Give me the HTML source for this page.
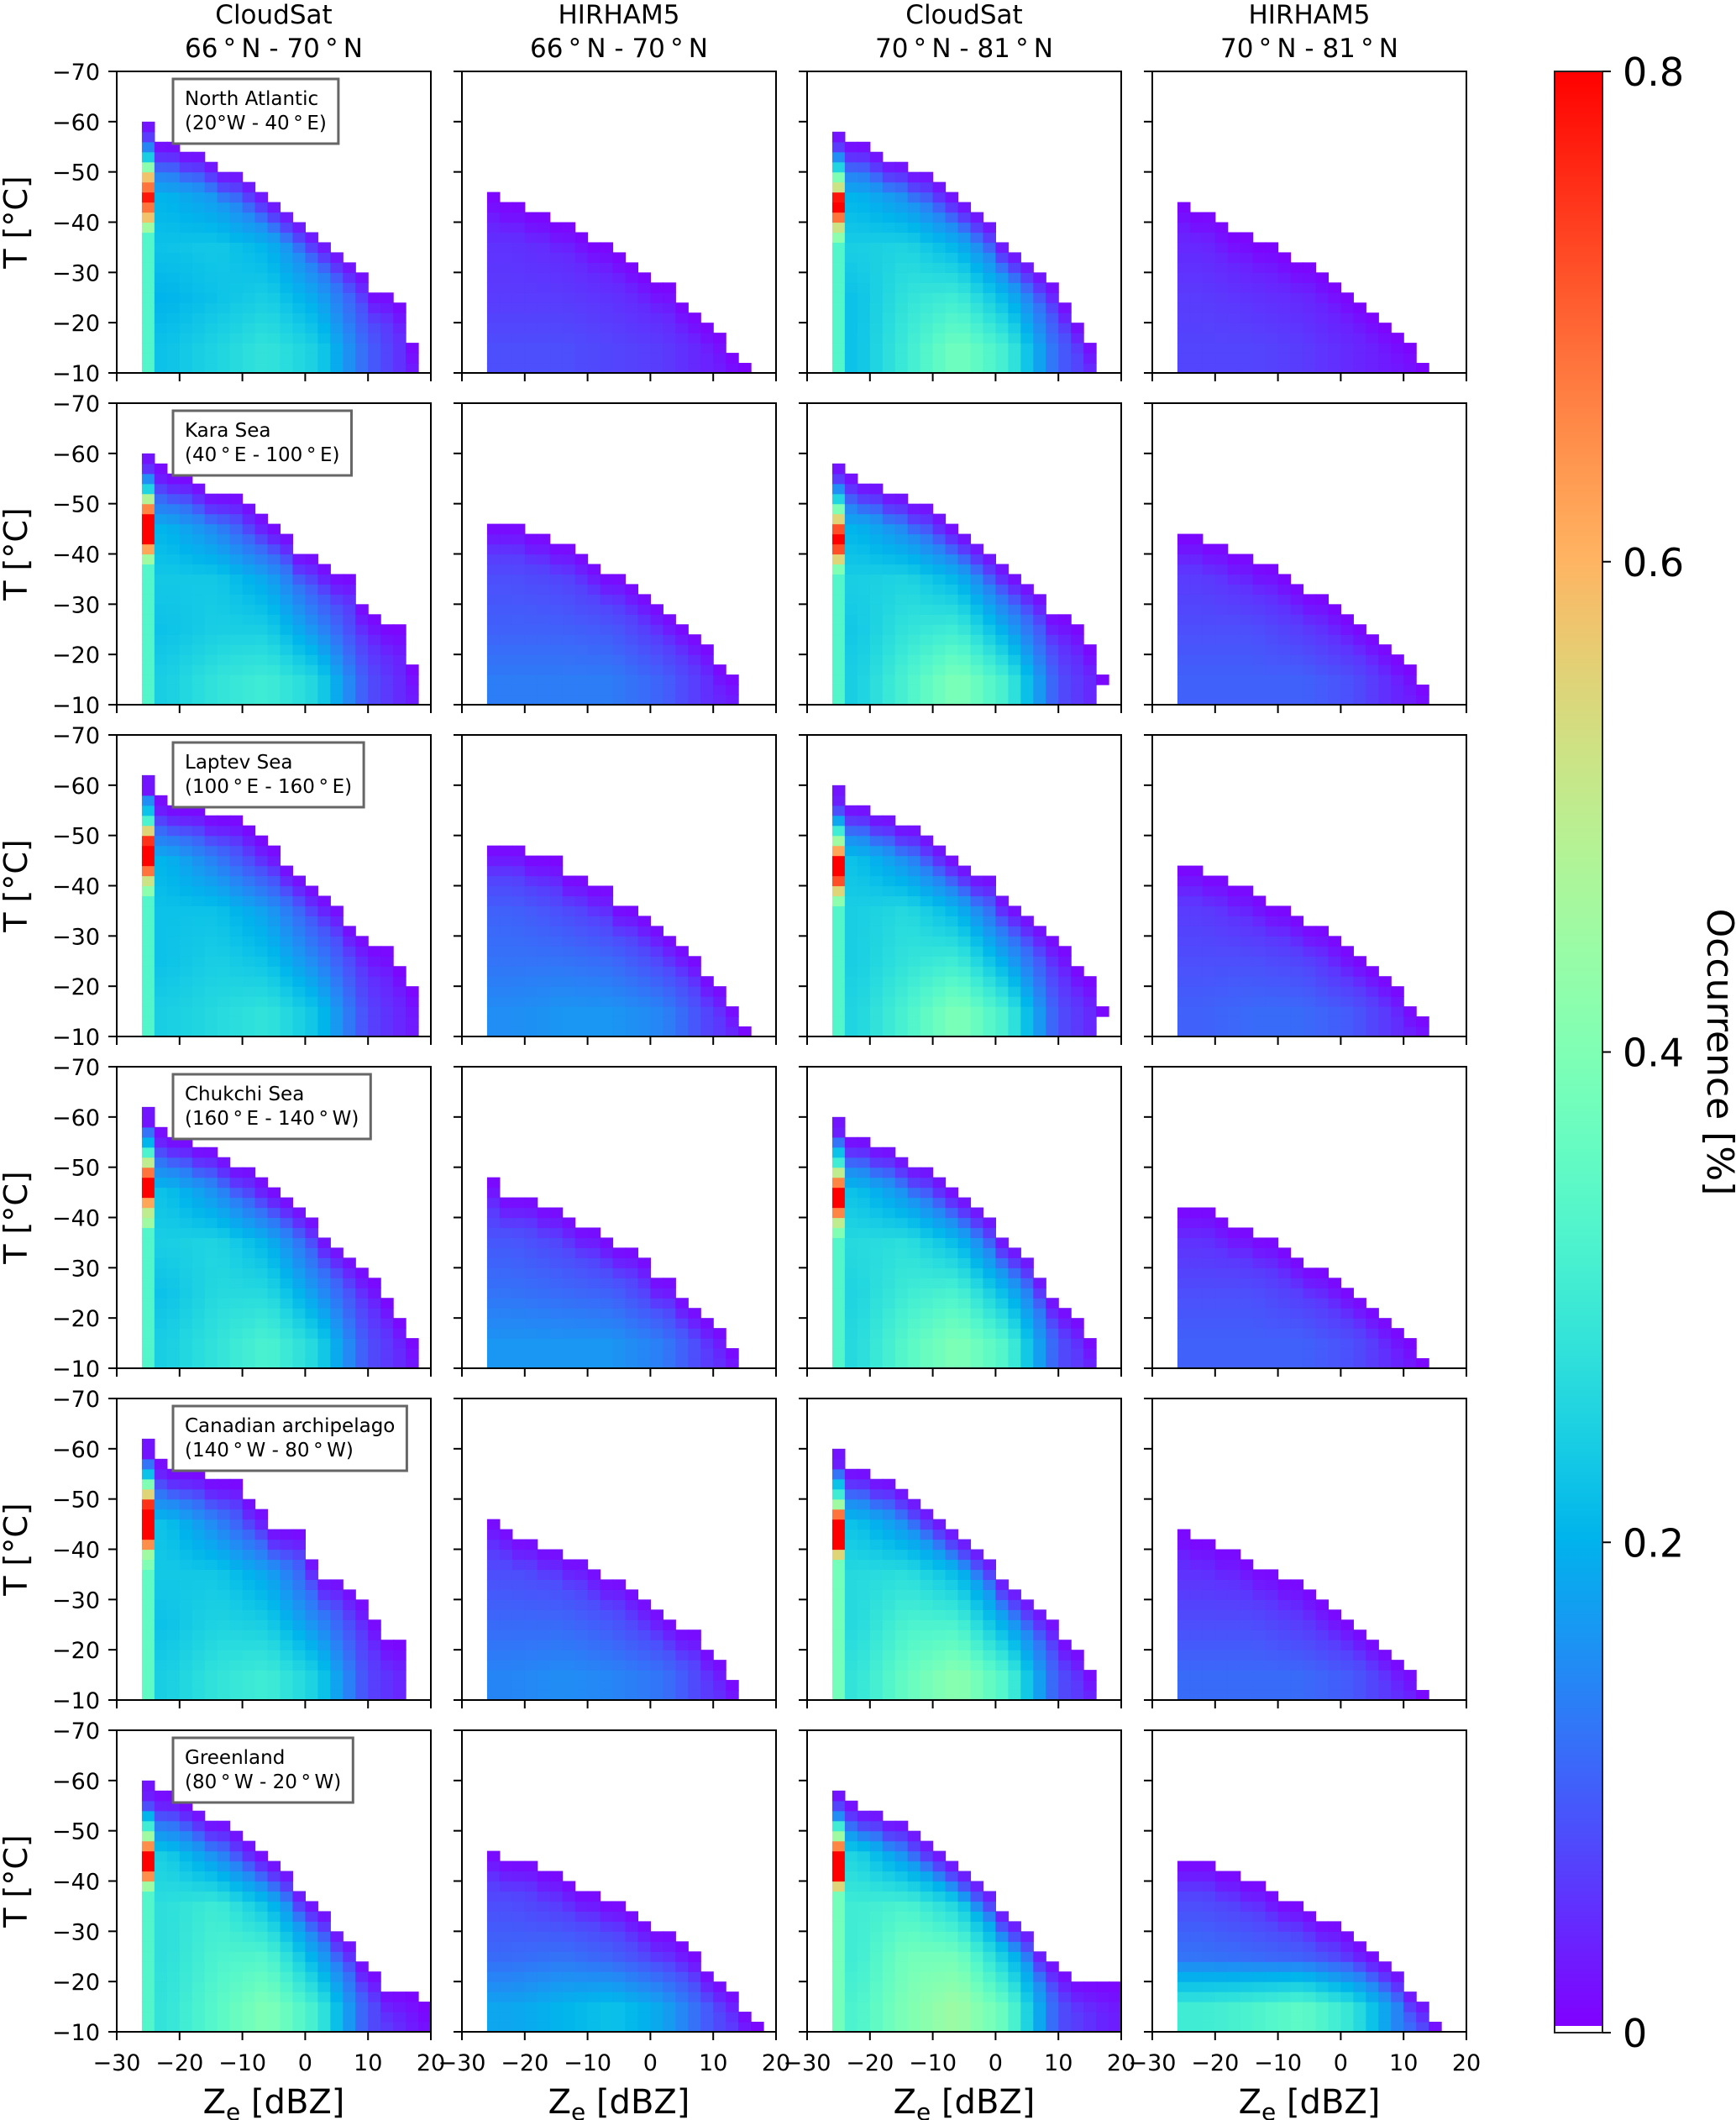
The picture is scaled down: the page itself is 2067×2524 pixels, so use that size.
<!DOCTYPE html>
<html><head><meta charset="utf-8"><style>
html,body{margin:0;padding:0;background:#fff;}
svg{display:block;font-family:"DejaVu Sans","Liberation Sans",sans-serif;}
</style></head><body>
<svg id="fig" width="2067" height="2524" viewBox="0 0 2067 2524" xmlns="http://www.w3.org/2000/svg">
<defs><linearGradient id="cbgrad" x1="0" y1="1" x2="0" y2="0"></linearGradient></defs>
<g id="panels"></g>
<g id="cbar"></g>
</svg>
<script>
// ---------- data ----------
const regionNames = ["North Atlantic","Kara Sea","Laptev Sea","Chukchi Sea","Canadian archipelago","Greenland"];
const regionRanges = ["(20\u00B0W - 40\u2009\u00B0\u2009E)","(40\u2009\u00B0\u2009E - 100\u2009\u00B0\u2009E)","(100\u2009\u00B0\u2009E - 160\u2009\u00B0\u2009E)","(160\u2009\u00B0\u2009E - 140\u2009\u00B0\u2009W)","(140\u2009\u00B0\u2009W - 80\u2009\u00B0\u2009W)","(80\u2009\u00B0\u2009W - 20\u2009\u00B0\u2009W)"];
const colTitles = ["CloudSat","HIRHAM5","CloudSat","HIRHAM5"];
const colSubtitles = ["66\u2009\u00B0\u2009N - 70\u2009\u00B0\u2009N","66\u2009\u00B0\u2009N - 70\u2009\u00B0\u2009N","70\u2009\u00B0\u2009N - 81\u2009\u00B0\u2009N","70\u2009\u00B0\u2009N - 81\u2009\u00B0\u2009N"];
const xTicks = [-30,-20,-10,0,10,20];
const yTicks = [-70,-60,-50,-40,-30,-20,-10];
const cbTicks = [0,0.2,0.4,0.6,0.8];
const cbLabels = ["0","0.2","0.4","0.6","0.8"];

// top temperature of each 2-dBZ column starting at -26 dBZ; [top,bottom] for floating cells
const topsNorthAtlantic = [
 [-60,-56,-56,-54,-54,-52,-50,-50,-48,-46,-44,-42,-40,-38,-36,-34,-32,-30,-26,-26,-24,-16],
 [-46,-44,-44,-42,-42,-40,-40,-38,-36,-36,-34,-32,-30,-28,-28,-24,-22,-20,-18,-14,-12],
 [-58,-56,-56,-54,-52,-52,-50,-50,-48,-46,-44,-42,-40,-36,-34,-32,-30,-28,-24,-20,-16],
 [-44,-42,-42,-40,-38,-38,-36,-36,-34,-32,-32,-30,-28,-26,-24,-22,-20,-18,-16,-12]];
const topsKara = [
 [-60,-58,-56,-56,-54,-52,-52,-52,-50,-48,-46,-44,-40,-40,-38,-36,-36,-30,-28,-26,-26,-18],
 [-46,-46,-46,-44,-44,-42,-42,-40,-38,-36,-36,-34,-32,-30,-28,-26,-24,-22,-18,-16],
 [-58,-56,-54,-54,-52,-52,-50,-50,-48,-46,-44,-42,-40,-38,-36,-34,-32,-28,-28,-26,-22,[-16,-14]],
 [-44,-44,-42,-42,-40,-40,-38,-38,-36,-34,-32,-32,-30,-28,-26,-24,-22,-20,-18,-14]];
const topsLaptev = [
 [-62,-58,-56,-56,-56,-54,-54,-54,-52,-50,-48,-44,-42,-40,-38,-36,-32,-30,-28,-28,-24,-20],
 [-48,-48,-48,-46,-46,-46,-42,-42,-40,-40,-36,-36,-34,-32,-30,-28,-26,-22,-20,-16,-12],
 [-60,-56,-56,-54,-54,-52,-52,-50,-48,-46,-44,-42,-42,-38,-36,-34,-32,-30,-28,-24,-22,[-16,-14]],
 [-44,-44,-42,-42,-40,-40,-38,-36,-36,-34,-32,-32,-30,-28,-26,-24,-22,-20,-16,-14]];
const topsChukchi = [
 [-62,-58,-56,-56,-54,-54,-52,-50,-50,-48,-46,-44,-42,-40,-36,-34,-32,-30,-28,-24,-20,-16],
 [-48,-44,-44,-44,-42,-42,-40,-38,-38,-36,-34,-34,-32,-28,-28,-24,-22,-20,-18,-14],
 [-60,-56,-56,-54,-54,-52,-50,-50,-48,-46,-44,-42,-40,-36,-34,-32,-28,-24,-22,-20,-16],
 [-42,-42,-42,-40,-38,-38,-36,-36,-34,-32,-30,-30,-28,-26,-24,-22,-20,-18,-16,-12]];
const topsCanadian = [
 [-62,-58,-56,-56,-56,-54,-54,-54,-50,-48,-44,-44,-44,-38,-34,-34,-32,-30,-26,-22,-22],
 [-46,-44,-42,-42,-40,-40,-38,-38,-36,-34,-34,-32,-30,-28,-26,-24,-24,-20,-18,-14],
 [-60,-56,-56,-54,-54,-52,-50,-48,-46,-44,-42,-40,-38,-34,-32,-30,-28,-26,-22,-20,-16],
 [-44,-42,-42,-40,-40,-38,-36,-36,-34,-34,-32,-30,-28,-26,-24,-22,-20,-18,-16,-12]];
const topsGreenland = [
 [-60,-58,-58,-56,-54,-52,-52,-50,-48,-46,-44,-42,-38,-36,-34,-30,-28,-24,-22,-18,-18,-18,-16],
 [-46,-44,-44,-44,-42,-42,-40,-38,-38,-36,-36,-34,-32,-30,-30,-28,-26,-22,-20,-18,-14,-12],
 [-58,-56,-54,-54,-52,-52,-50,-48,-46,-44,-42,-40,-38,-34,-32,-30,-26,-24,-22,-20,-20,-20,-20],
 [-44,-44,-44,-42,-42,-40,-40,-38,-36,-36,-34,-32,-32,-30,-28,-26,-24,-22,-18,-16,-12]];

// first (-26 dBZ) CloudSat column, occurrence per 2 °C bin from -10 upward; [66-70N, 70-81N]
const col0NorthAtlantic = [
 [.33,.33,.33,.33,.33,.33,.33,.33,.33,.33,.33,.33,.33,.33,.45,.58,.68,.78,.68,.58,.42,.24,.14,.06,.02],
 [.33,.33,.33,.33,.33,.33,.33,.33,.33,.33,.33,.33,.33,.42,.52,.68,.8,.78,.52,.4,.25,.15,.06,.02]];
const col0Kara = [
 [.33,.33,.33,.33,.33,.33,.33,.33,.33,.33,.33,.33,.33,.33,.45,.62,.8,.8,.8,.66,.48,.25,.15,.05,.02],
 [.33,.33,.33,.33,.33,.33,.33,.33,.33,.33,.33,.33,.33,.4,.55,.72,.8,.72,.55,.4,.25,.15,.06,.02]];
const col0Laptev = [
 [.33,.33,.33,.33,.33,.33,.33,.33,.33,.33,.33,.33,.33,.33,.42,.52,.68,.8,.8,.75,.55,.32,.22,.15,.02,.02],
 [.33,.33,.33,.33,.33,.33,.33,.33,.33,.33,.33,.33,.33,.42,.55,.72,.8,.8,.62,.45,.3,.18,.08,.03,.02]];
const col0Chukchi = [
 [.33,.33,.33,.33,.33,.33,.33,.33,.33,.33,.33,.33,.33,.33,.45,.5,.62,.8,.8,.68,.5,.32,.2,.12,.02,.02],
 [.33,.33,.33,.33,.33,.33,.33,.33,.33,.33,.33,.33,.33,.4,.5,.66,.8,.8,.66,.5,.3,.22,.12,.03,.02]];
const col0Canadian = [
 [.35,.35,.35,.35,.35,.35,.35,.35,.35,.35,.35,.35,.35,.4,.45,.65,.8,.8,.8,.75,.55,.4,.22,.12,.02,.02],
 [.38,.38,.38,.38,.38,.38,.38,.38,.38,.38,.38,.38,.38,.38,.55,.8,.8,.8,.68,.45,.3,.22,.12,.03,.02]];
const col0Greenland = [
 [.33,.33,.33,.33,.33,.33,.33,.33,.33,.33,.33,.33,.33,.33,.45,.65,.8,.8,.65,.45,.3,.2,.08,.03,.02],
 [.38,.38,.38,.38,.38,.38,.38,.38,.38,.38,.38,.38,.38,.38,.55,.8,.8,.8,.66,.45,.3,.15,.07,.02]];

// body occurrence: rows = 10 °C bands (centres -15,-25,...), cols = 8-dBZ groups (centres -22,-14,...)
const bodyNorthAtlantic = [
 [[.22,.25,.28,.24,.1,.02],[.2,.22,.24,.18,.06,.02],[.22,.23,.2,.1,.03,0],[.2,.16,.08,.02],[.06,.03,.01],[0]],
 [[.08,.08,.07,.06,.03,.01],[.06,.06,.05,.03,.01],[.05,.04,.02,.01],[.02,.01],[0],[0]],
 [[.22,.3,.38,.3,.1,.02],[.22,.28,.3,.2,.05,.01],[.24,.25,.2,.08,.02],[.2,.15,.06,.01],[.06,.02],[0]],
 [[.07,.07,.06,.04,.02,.01],[.06,.05,.04,.02],[.04,.02,.01],[.02,.01],[0],[0]]];
const bodyKara = [
 [[.24,.28,.3,.25,.08,.02],[.22,.24,.24,.15,.04,.01],[.23,.23,.18,.07,.02],[.2,.14,.05,.01],[.05,.02],[0]],
 [[.13,.13,.13,.1,.04,.02],[.1,.1,.09,.05,.02],[.08,.07,.04,.02],[.04,.02,.01],[0],[0]],
 [[.24,.32,.4,.3,.08,.02],[.23,.28,.3,.18,.04,.01],[.24,.25,.2,.07,.02],[.2,.14,.05,.01],[.06,.02],[0]],
 [[.1,.1,.1,.08,.03,.02],[.08,.08,.06,.03,.01],[.06,.04,.02],[.02,.01],[0],[0]]];
const bodyLaptev = [
 [[.24,.26,.28,.22,.07,.02],[.22,.24,.22,.14,.04,.01],[.22,.22,.17,.07,.02],[.2,.13,.05,.01],[.05,.02],[0]],
 [[.15,.16,.16,.14,.06,.02],[.12,.12,.11,.07,.02],[.1,.08,.05,.02],[.05,.02,.01],[0],[0]],
 [[.25,.32,.4,.3,.08,.02],[.24,.28,.3,.18,.04,.01],[.24,.26,.2,.07,.02],[.22,.15,.05,.01],[.07,.02],[0]],
 [[.1,.11,.11,.09,.04,.02],[.08,.08,.07,.03,.01],[.06,.04,.02],[.02,.01],[0],[0]]];
const bodyChukchi = [
 [[.24,.28,.32,.25,.08,.02],[.22,.26,.26,.16,.04,.01],[.24,.25,.2,.08,.02],[.22,.15,.05,.01],[.06,.02],[0]],
 [[.16,.16,.16,.13,.05,.02],[.12,.11,.1,.05,.02],[.09,.07,.04,.02],[.04,.02,.01],[0],[0]],
 [[.26,.34,.4,.32,.08,.02],[.25,.3,.32,.2,.04,.01],[.26,.27,.21,.07,.02],[.22,.15,.05,.01],[.06,.02],[0]],
 [[.1,.1,.1,.08,.03,.02],[.08,.08,.06,.03,.01],[.05,.04,.02],[.02,.01],[0],[0]]];
const bodyCanadian = [
 [[.24,.28,.3,.24,.07,.02],[.22,.25,.24,.15,.04,.01],[.23,.23,.18,.07,.02],[.22,.14,.05,.01],[.06,.02],[0]],
 [[.14,.15,.14,.12,.05,.02],[.11,.11,.09,.05,.02],[.08,.07,.04,.02],[.04,.02,.01],[0],[0]],
 [[.28,.36,.42,.32,.08,.02],[.26,.32,.32,.18,.04,.01],[.26,.27,.21,.07,.02],[.22,.15,.05,.01],[.06,.02],[0]],
 [[.11,.11,.11,.09,.04,.02],[.08,.08,.06,.03,.01],[.05,.04,.02],[.02,.01],[0],[0]]];
const bodyGreenland = [
 [[.28,.34,.4,.3,.08,.02],[.27,.32,.33,.18,.03,.01],[.27,.3,.22,.06,.02],[.24,.15,.04,.01],[.06,.02],[0]],
 [[.18,.2,.22,.18,.08,.02],[.11,.12,.1,.06,.02],[.08,.06,.04,.02],[.04,.02,.01],[0],[0]],
 [[.32,.4,.45,.35,.08,.03],[.3,.38,.38,.22,.04,.02],[.3,.32,.25,.06,.02],[.25,.15,.04,.01],[.06,.02],[0]],
 [[.3,.32,.35,.28,.12,.03],[.12,.11,.1,.06,.02],[.08,.06,.03,.01],[.03,.01],[0],[0]]];

const allTops = [topsNorthAtlantic,topsKara,topsLaptev,topsChukchi,topsCanadian,topsGreenland];
const allCol0 = [col0NorthAtlantic,col0Kara,col0Laptev,col0Chukchi,col0Canadian,col0Greenland];
const allBody = [bodyNorthAtlantic,bodyKara,bodyLaptev,bodyChukchi,bodyCanadian,bodyGreenland];

// ---------- layout ----------
const NS = "http://www.w3.org/2000/svg";
const colX = [139,550,961,1372], PW = 374, PH = 359, rowY0 = 85, rowStep = 395;
const VMAX = 0.8;
function rainbow(v){
  let x = Math.max(0, Math.min(1, v / VMAX));
  const r = Math.min(1, Math.abs(2*x - 0.5));
  const g = Math.max(0, Math.sin(Math.PI*x));
  const b = Math.max(0, Math.cos(Math.PI*x/2));
  return "rgb(" + Math.round(r*255) + "," + Math.round(g*255) + "," + Math.round(b*255) + ")";
}
function mk(tag, attrs, parent){
  const e = document.createElementNS(NS, tag);
  for (const k in attrs) e.setAttribute(k, attrs[k]);
  parent.appendChild(e);
  return e;
}
function bodyAt(body, k, g){
  const row = body[k] || [0];
  const v = row[g];
  return v === undefined ? 0.005 : v;
}
function sampleBody(body, xc, tc){
  const fk = Math.max(0, Math.min(5, (-tc - 15) / 10));
  const fg = Math.max(0, Math.min(5, (xc + 22) / 8));
  const k0 = Math.floor(fk), g0 = Math.floor(fg);
  const k1 = Math.min(5, k0 + 1), g1 = Math.min(5, g0 + 1);
  const dk = fk - k0, dg = fg - g0;
  return (bodyAt(body,k0,g0)*(1-dg) + bodyAt(body,k0,g1)*dg)*(1-dk) +
         (bodyAt(body,k1,g0)*(1-dg) + bodyAt(body,k1,g1)*dg)*dk;
}
const root = document.getElementById("panels");

for (let r = 0; r < 6; r++){
  for (let c = 0; c < 4; c++){
    const x0 = colX[c], y0 = rowY0 + r*rowStep;
    const xS = v => x0 + (v + 30) / 50 * PW;
    const yS = t => y0 + (t + 70) / 60 * PH;
    const g = mk("g", {}, root);
    
    
    const tops = allTops[r][c];
    const body = allBody[r][c];
    const col0 = allCol0[r][c === 0 ? 0 : 1];
    const isCS = (c === 0 || c === 2);
    for (let i = 0; i < tops.length; i++){
      const xs = -26 + 2*i;
      let top = tops[i], bot = -10;
      if (Array.isArray(top)) { bot = top[1]; top = top[0]; }
      for (let t = bot; t > top; t -= 2){
        let v;
        if (isCS && i === 0) {
          v = col0[Math.round((-10 - t) / 2)];
          if (v === undefined) v = 0.02;
        } else {
          v = sampleBody(body, xs + 1, t - 1);
          const d = (t - top) / 2 - 0.5;  // bins below column top
          v = v * Math.min(1, 0.15 + d * 0.28);
        }
        const cell = mk("rect", {x: xS(xs).toFixed(2), y: yS(t-2).toFixed(2), width: (xS(xs+2)-xS(xs)+0.6).toFixed(2), height: (yS(t)-yS(t-2)+0.6).toFixed(2), fill: rainbow(v)}, g);
        
        
      }
    }
    const fr = mk("rect", {x: x0, y: y0, width: PW, height: PH, fill: "none", stroke: "#000", "stroke-width": 2}, g);
    
    
    yTicks.forEach(t => {
      mk("line", {x1: x0-10, x2: x0, y1: yS(t), y2: yS(t), stroke: "#000", "stroke-width": 2}, g);
      if (c === 0){
        const tl = mk("text", {x: x0-20, y: yS(t)+10, "font-size": 27, "text-anchor": "end"}, g);
        tl.textContent = t < 0 ? "\u2212" + Math.abs(t) : String(t);
        
        
      }
    });
    xTicks.forEach(v => {
      mk("line", {x1: xS(v), x2: xS(v), y1: y0+PH, y2: y0+PH+10, stroke: "#000", "stroke-width": 2}, g);
      if (r === 5){
        const tl = mk("text", {x: xS(v), y: y0+PH+46, "font-size": 27, "text-anchor": "middle"}, g);
        tl.textContent = v < 0 ? "\u2212" + Math.abs(v) : String(v);
        
        
      }
    });
    if (c === 0){
      const yl = mk("text", {x: 0, y: 0, "font-size": 38, "text-anchor": "middle", transform: "translate(32," + (y0+PH/2) + ") rotate(-90)"}, g);
      yl.textContent = "T [\u00B0C]";
      
      
      const box = mk("rect", {x: x0+67, y: y0+9, width: 100, height: 77, fill: "#fff", stroke: "#666", "stroke-width": 3}, g);
      
      
      const t1 = mk("text", {x: x0+81, y: y0+40, "font-size": 23}, g);
      t1.textContent = regionNames[r];
      
      
      const t2 = mk("text", {x: x0+81, y: y0+69, "font-size": 23}, g);
      t2.textContent = regionRanges[r];
      
      
      const w = Math.max(t1.getComputedTextLength(), t2.getComputedTextLength());
      box.setAttribute("width", (w + 28).toFixed(1));
    }
    if (r === 0){
      const tt = mk("text", {x: x0+PW/2, y: 28, "font-size": 31, "text-anchor": "middle"}, g);
      tt.textContent = colTitles[c];
      
      
      const ts = mk("text", {x: x0+PW/2, y: 68, "font-size": 31, "text-anchor": "middle"}, g);
      ts.textContent = colSubtitles[c];
      
      
    }
    if (r === 5){
      const xl = mk("text", {x: x0+PW/2, y: 2516, "font-size": 40, "text-anchor": "middle"}, g);
      xl.innerHTML = 'Z<tspan font-size="28" dy="8">e</tspan><tspan dy="-8"> [dBZ]</tspan>';
      
      
    }
  }
}

// ---------- colorbar ----------
const grad = document.getElementById("cbgrad");
for (let i = 0; i <= 20; i++){
  mk("stop", {offset: (i/20), "stop-color": rainbow(i/20*VMAX)}, grad);
}
const cb = document.getElementById("cbar");
const cbX = 1851, cbW = 57, cbTop = 85, cbBot = 2420;
const cbY = v => cbBot - v / VMAX * (cbBot - cbTop);
const cbr = mk("rect", {x: cbX, y: cbTop, width: cbW, height: cbBot-cbTop-8, fill: "url(#cbgrad)"}, cb);


mk("rect", {x: cbX, y: cbTop, width: cbW, height: cbBot-cbTop, fill: "none", stroke: "#222", "stroke-width": 2}, cb);
cbTicks.forEach((v, i) => {
  mk("line", {x1: cbX+cbW, x2: cbX+cbW+10, y1: cbY(v), y2: cbY(v), stroke: "#000", "stroke-width": 2}, cb);
  const tl = mk("text", {x: cbX+cbW+24, y: cbY(v)+17, "font-size": 46}, cb);
  tl.textContent = cbLabels[i];
  
  
});
const cbl = mk("text", {x: 0, y: 0, "font-size": 44, "text-anchor": "middle", transform: "translate(2033," + ((cbTop+cbBot)/2) + ") rotate(90)"}, cb);
cbl.textContent = "Occurrence [%]";


</script>
</body></html>
